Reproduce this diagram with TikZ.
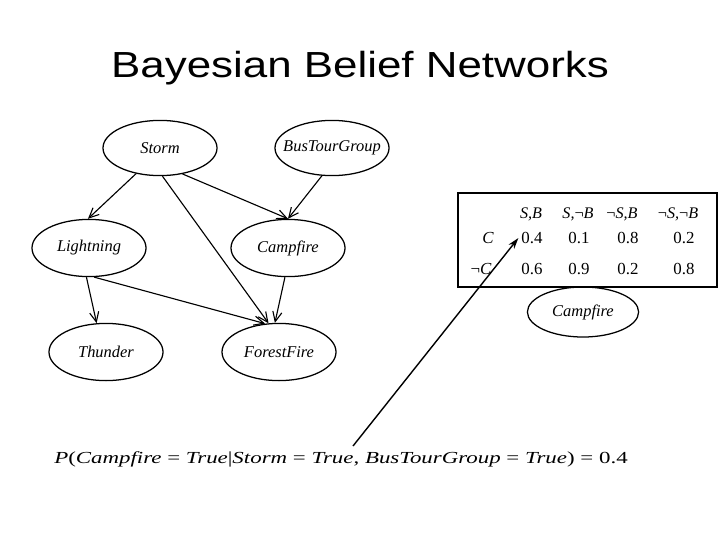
\documentclass[tikz,border=0pt]{standalone}
\usepackage{fontspec}
\setmainfont{Liberation Serif}
\newfontfamily\titlefont{Liberation Sans}
\usetikzlibrary{arrows.meta,shapes.geometric}

\begin{document}
\begin{tikzpicture}[x=0.025cm, y=-0.025cm,
  var/.style={draw, ellipse, line width=0.9pt, inner sep=0pt,
              minimum width=2.85cm, minimum height=1.38cm,
              font=\fontsize{11.7}{14}\itshape},
  arr/.style={-{Straight Barb[length=7pt,width=6.5pt]}, line width=0.8pt},
  head/.style={font=\fontsize{11.5}{13}\itshape, inner sep=1pt},
  cell/.style={font=\fontsize{12}{14}\selectfont, inner sep=2pt},
  ptr/.style={-{Stealth[length=8pt,width=5pt]}, line width=1pt}
]
  \useasboundingbox (0,0) rectangle (720,540);

  % title
  \node[font=\titlefont\fontsize{25.8}{30}\selectfont, anchor=base,
        xscale=1.21, transform shape] (title) at (360,77) {Bayesian Belief Networks};

  % network
  \node[var] (storm) at (160,148) {Storm};
  \node[var, inner xsep=-7pt] (bus) at (332,148) {BusTourGroup};
  \node[var, minimum height=1.43cm] (light) at (89,248) {Lightning};
  \node[var, minimum height=1.43cm] (camp) at (288,248) {Campfire};
  \node[var, minimum height=1.43cm] (thunder) at (106,352) {Thunder};
  \node[var, minimum height=1.43cm] (forest) at (279,352) {ForestFire};

  \draw[arr] (storm.227) -- (light.92);
  \draw[arr] (storm.275) -- (forest.110);
  \draw[arr] (storm.311) -- (camp.north);
  \draw[arr] (bus.250) -- (camp.north);
  \draw[arr] (light.265) -- (thunder.108);
  \draw[arr] (light.280) -- (forest.116);
  \draw[arr] (camp.264) -- (forest.98);

  % conditional probability table
  \node[draw, line width=0.9pt, minimum width=6.475cm, minimum height=2.35cm] (cpt) at (587.5,240) {};
  \node[head] (h1) at (531,214) {S,B};
  \node[head] (h2) at (578,214) {S,{\upshape¬}B};
  \node[head] (h3) at (622,214) {{\upshape¬}S,B};
  \node[head] (h4) at (678,214) {{\upshape¬}S,{\upshape¬}B};
  \node[head, font=\fontsize{12}{14}\itshape] (rc) at (488,238) {C};
  \node[head, font=\fontsize{12}{14}\itshape] (rnc) at (481,269) {{\upshape¬}C};
  \foreach \x/\a/\b [count=\i] in {532/0.4/0.6, 579/0.1/0.9, 628/0.8/0.2, 684/0.2/0.8} {
    \node[cell] (c\i) at (\x,238) {\a};
    \node[cell] (n\i) at (\x,269) {\b};
  }
  \node[var, minimum width=2.78cm, minimum height=1.25cm] (cpf) at (583,312) {Campfire};

  % query
  \node[font=\fontsize{12}{14}\selectfont, anchor=base, xscale=1.357, transform shape] (query) at (341,463)
    {\textit{P}(\textit{Campfire} = \textit{True}|\textit{Storm} = \textit{True}, \textit{BusTourGroup} = \textit{True}) = 0.4};
  \coordinate (qp) at (353,446);
  \draw[ptr] (qp) -- (c1.west);
\end{tikzpicture}
\end{document}
